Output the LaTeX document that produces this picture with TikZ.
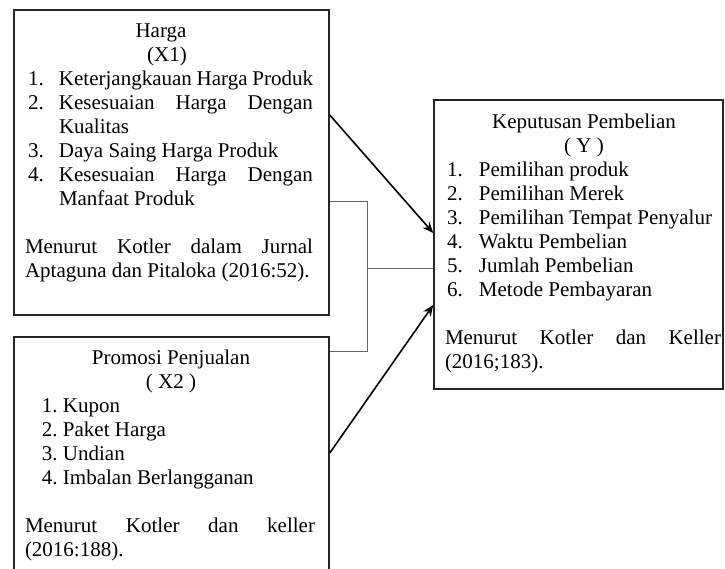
\documentclass[tikz,border=0pt]{standalone}
\usepackage{fontspec}
\setmainfont{Liberation Serif}
\usetikzlibrary{arrows.meta}
\newcommand\Lft[2]{\hbox to\hsize{\hskip#1pt #2\hfil}}
\newcommand\Ctr[2]{\hbox to\hsize{\hskip#1pt\hbox to 0pt{\hss #2\hss}\hfil}}
\newcommand\Itm[4]{\hbox to\hsize{\hskip#1pt\hbox to #2pt{#3\hfil}#4\hfil}}
\newcommand\Jst[2]{\hbox to\hsize{\hskip#1pt #2}}
\begin{document}
\begin{tikzpicture}[x=1pt,y=-1pt,
  box/.style={draw=black!85, line width=1.5pt, fill=none, inner sep=0pt},
  txt/.style={anchor=base west, inner sep=0pt, outer sep=0pt, font=\fontsize{21}{24}\selectfont},
  arr/.style={line width=1.6pt, black, -{Stealth[length=11pt,width=9pt]}},
  bracket/.style={line width=0.8pt, black!60}]
\clip (0,0) rectangle (725,568);
\fill[white] (0,0) rectangle (725,568);
% boxes
\node[box, minimum width=315pt, minimum height=305pt] (harga) at (171.5,162.5) {};
\node[box, minimum width=315pt, minimum height=263pt] (promosi) at (171.5,468.5) {};
\node[box, minimum width=289pt, minimum height=289pt] (keputusan) at (578.5,244.5) {};
% texts
\node[txt] (hargatxt) at (25,37) {\vtop{\hsize=288pt\parindent=0pt\baselineskip=24pt\lineskiplimit=-20pt
  \Ctr{136}{Harga}
  \Ctr{142}{(X1)}
  \Itm{3}{31}{1.}{Keterjangkauan Harga Produk}
  \Jst{3}{\hbox to 31pt{2.\hfil}Kesesuaian\hfill Harga\hfill Dengan}
  \Lft{34}{Kualitas}
  \Itm{3}{31}{3.}{Daya Saing Harga Produk}
  \Jst{3}{\hbox to 31pt{4.\hfil}Kesesuaian\hfill Harga\hfill Dengan}
  \Lft{34}{Manfaat Produk}
  \Lft{0}{\strut}
  \Jst{0}{Menurut\hfill Kotler\hfill dalam\hfill Jurnal}
  \Lft{0}{Aptaguna dan Pitaloka (2016:52).}
}};
\node[txt] (promositxt) at (25,364) {\vtop{\hsize=290pt\parindent=0pt\baselineskip=24pt\lineskiplimit=-20pt
  \Ctr{146}{Promosi Penjualan}
  \Ctr{146}{( X2 )}
  \Itm{17}{21}{1.}{Kupon}
  \Itm{17}{21}{2.}{Paket Harga}
  \Itm{17}{21}{3.}{Undian}
  \Itm{17}{21}{4.}{Imbalan Berlangganan}
  \Lft{0}{\strut}
  \Jst{0}{Menurut\hfill Kotler\hfill dan\hfill keller}
  \Lft{0}{(2016:188).}
}};
\node[txt] (keputusantxt) at (445,128) {\vtop{\hsize=276pt\parindent=0pt\baselineskip=24pt\lineskiplimit=-20pt
  \Ctr{139}{Keputusan Pembelian}
  \Ctr{139}{( Y )}
  \Itm{2}{32}{1.}{Pemilihan produk}
  \Itm{2}{32}{2.}{Pemilihan Merek}
  \Itm{2}{32}{3.}{Pemilihan Tempat Penyalur}
  \Itm{2}{32}{4.}{Waktu Pembelian}
  \Itm{2}{32}{5.}{Jumlah Pembelian}
  \Itm{2}{32}{6.}{Metode Pembayaran}
  \Lft{0}{\strut}
  \Jst{0}{Menurut\hfill Kotler\hfill dan\hfill Keller}
  \Lft{0}{(2016;183).}
}};
% connector points
\coordinate (jt) at (367,201);
\coordinate (jb) at (367,351);
\coordinate (jm) at (367,268);
\coordinate (a1s) at (0,115);
\coordinate (a1e) at (0,233);
\coordinate (a2s) at (0,453);
\coordinate (a2e) at (0,305);
\draw[bracket] (harga.east |- jt) -- (jt) -- (jb) -- (promosi.east |- jb);
\draw[bracket] (jm) -- (keputusan.west |- jm);
\draw[arr] (harga.east |- a1s) -- (keputusan.west |- a1e);
\draw[arr] (promosi.east |- a2s) -- (keputusan.west |- a2e);
\end{tikzpicture}
\end{document}
